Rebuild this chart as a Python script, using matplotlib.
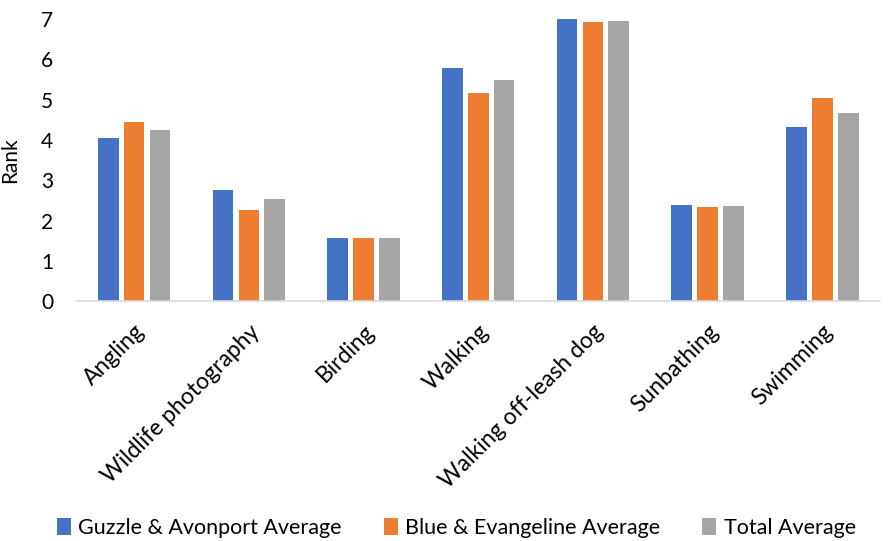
import matplotlib
matplotlib.use("Agg")
import matplotlib.pyplot as plt
import numpy as np

categories = ["Angling", "Wildlife photography", "Birding", "Walking",
              "Walking off-leash dog", "Sunbathing", "Swimming"]
guzzle_avonport = [4.06, 2.77, 1.57, 5.78, 6.99, 2.39, 4.32]
blue_evangeline = [4.45, 2.27, 1.57, 5.16, 6.93, 2.33, 5.04]
total_average = [4.25, 2.53, 1.57, 5.48, 6.96, 2.37, 4.68]
series_names = ["Guzzle & Avonport Average", "Blue & Evangeline Average", "Total Average"]
colors = ["#4472C4", "#ED7D31", "#A5A5A5"]
y_ticks = [0, 1, 2, 3, 4, 5, 6, 7]

plt.rcParams["font.family"] = ["Lato", "DejaVu Sans"]

fig = plt.figure(figsize=(8.93, 5.41), dpi=100)
ax = fig.add_axes([0.086, 0.443, 0.899, 0.522])

x = np.arange(len(categories))
step = 0.226
width = 0.18
for i, (vals, name, c) in enumerate(zip([guzzle_avonport, blue_evangeline, total_average],
                                       series_names, colors)):
    ax.bar(x + (i - 1) * step, vals, width, color=c, label=name, zorder=2)

ax.set_xlim(-0.5, len(categories) - 0.5)
ax.set_ylim(0, 7)
ax.set_yticks(y_ticks)
ax.set_xticks(x)
ax.set_xticklabels(categories, rotation=45, ha="right", rotation_mode="anchor",
                   fontsize=16.5, color="black")
ax.tick_params(axis="x", length=0, pad=14)
ax.tick_params(axis="y", length=0, labelsize=15, labelcolor="black", pad=17)
ax.set_ylabel("Rank", fontsize=15, color="black")
ax.yaxis.set_label_coords(-0.071, 0.5)

for side in ["top", "right", "left"]:
    ax.spines[side].set_visible(False)
ax.spines["bottom"].set_color("#D9D9D9")
ax.spines["bottom"].set_linewidth(1.2)

fig.legend(loc="lower center", bbox_to_anchor=(0.511, -0.03), ncol=3, frameon=False,
           fontsize=15.5, handlelength=0.65, handleheight=0.8, handletextpad=0.35,
           columnspacing=1.95)

fig.savefig("out.png", dpi=100)
